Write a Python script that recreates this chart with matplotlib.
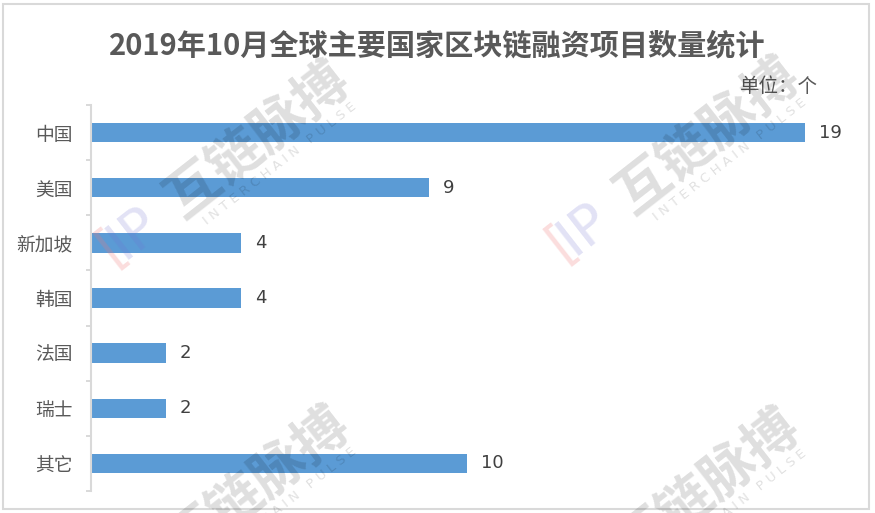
import numpy as np
import matplotlib.pyplot as plt
from matplotlib.patches import Rectangle

plt.rcParams['font.family'] = ['Noto Sans CJK SC', 'DejaVu Sans']

# project counts per country, Oct 2019
countries = ['中国', '美国', '新加坡', '韩国', '法国', '瑞士', '其它']
counts = [19, 9, 4, 4, 2, 2, 10]

title = '2019年10月全球主要国家区块链融资项目数量统计'
unit = '单位：个'

bar_color = '#5B9BD5'
grid_grey = '#D9D9D9'
text_grey = '#595959'

W, H = 875, 513
fig = plt.figure(figsize=(W / 100, H / 100), dpi=100)

# axes box in pixels: left edge at the y spine, top/bottom at first/last category boundary
left, right, top, bottom = 91, 91 + 20 * 37.58, 105, 491
ax = fig.add_axes([left / W, 1 - bottom / H, (right - left) / W, (bottom - top) / H])

ypos = np.arange(len(countries))
ax.barh(ypos, counts, height=0.35, color=bar_color, zorder=2)
ax.set_xlim(0, 20)
ax.set_ylim(len(countries) - 0.5, -0.5)

for y, v in zip(ypos, counts):
    ax.annotate(str(v), (v, y), xytext=(10, 0), textcoords='offset points',
                ha='left', va='center', fontsize=13, color='#404040', family='DejaVu Sans')

# boundaries get the tick marks, centres get the labels
ax.set_yticks(np.arange(-0.5, len(countries), 1.0))
ax.set_yticklabels([])
ax.set_yticks(ypos, minor=True)
ax.set_yticklabels(countries, minor=True, fontsize=13.5, color=text_grey)
ax.tick_params(axis='y', which='major', direction='out', length=3.5, width=1.4, color=grid_grey)
ax.tick_params(axis='y', which='minor', length=0, pad=13)
ax.set_xticks([])

for side in ['top', 'right', 'bottom']:
    ax.spines[side].set_visible(False)
ax.spines['left'].set_color(grid_grey)
ax.spines['left'].set_linewidth(1.5)

fig.text(437 / W, 1 - 45 / H, title, ha='center', va='center',
         fontsize=21, fontweight='bold', color=text_grey)
fig.text(818 / W, 1 - 87 / H, unit, ha='right', va='center', fontsize=14, color=text_grey)

# outer frame
fig.patches.append(Rectangle((3 / W, 4 / H), 866 / W, 505 / H, transform=fig.transFigure,
                             fill=False, edgecolor=grid_grey, linewidth=1.5))

# faint watermarks
marks = [(258, 140), (708, 136), (258, 485), (708, 487)]
ang = 38
for cx, cy in marks:
    fig.text(cx / W, 1 - cy / H, '互链脉搏', ha='center', va='center', rotation=ang,
             rotation_mode='anchor', fontsize=39, fontweight='bold', color='black',
             alpha=0.13, zorder=5)
    fig.text((cx + 22) / W, 1 - (cy + 24) / H, 'I N T E R C H A I N   P U L S E',
             ha='center', va='center', rotation=ang, rotation_mode='anchor',
             fontsize=9.5, color='black', alpha=0.12, zorder=5, family='DejaVu Sans')
    lx, ly = cx - 124, cy + 93
    fig.text((lx - 22) / W, 1 - (ly + 14) / H, '[', ha='center', va='center', rotation=ang,
             rotation_mode='anchor', fontsize=38, color='#F07878', alpha=0.25, zorder=5,
             family='DejaVu Sans')
    fig.text(lx / W, 1 - ly / H, 'IP', ha='center', va='center', rotation=ang,
             rotation_mode='anchor', fontsize=40, color='#7070D0', alpha=0.2,
             zorder=5, family='DejaVu Sans')

fig.savefig('out.png', dpi=100)
